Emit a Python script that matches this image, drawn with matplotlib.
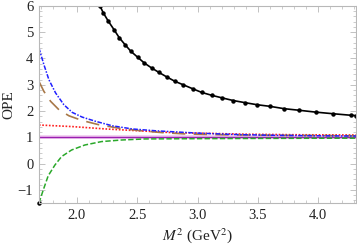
import matplotlib
matplotlib.use("Agg")
import matplotlib.pyplot as plt
from matplotlib.ticker import MultipleLocator

plt.rcParams['font.family'] = ['Liberation Serif', 'DejaVu Serif']
plt.rcParams['mathtext.fontset'] = 'stix'

# black curve with mesh points
x_black = [2.191, 2.218, 2.260, 2.307, 2.351, 2.398, 2.448, 2.503, 2.558, 2.619,
           2.680, 2.744, 2.813, 2.881, 2.959, 3.034, 3.117, 3.205, 3.296, 3.393,
           3.495, 3.600, 3.719, 3.843, 3.979, 4.120, 4.272, 4.313]
y_black = [6.00, 5.74, 5.42, 5.10, 4.79, 4.53, 4.27, 4.05, 3.83, 3.64,
           3.47, 3.30, 3.13, 3.00, 2.85, 2.71, 2.60, 2.50, 2.40, 2.32,
           2.24, 2.18, 2.09, 2.03, 1.96, 1.90, 1.84, 1.83]

x_blue = [1.685, 1.726, 1.768, 1.823, 1.892, 1.961, 2.044, 2.155, 2.293, 2.459,
          2.653, 2.846, 3.012, 3.3, 3.6, 4.0, 4.313]
y_blue = [4.40, 3.77, 3.19, 2.69, 2.24, 1.95, 1.77, 1.61, 1.44, 1.32,
          1.25, 1.20, 1.16, 1.11, 1.08, 1.06, 1.05]

x_brown = [1.685, 1.726, 1.782, 1.851, 1.934, 2.044, 2.182, 2.348, 2.514, 2.707,
           2.901, 3.2, 3.6, 4.0, 4.313]
y_brown = [3.13, 2.75, 2.37, 2.05, 1.82, 1.64, 1.48, 1.35, 1.26, 1.18,
           1.13, 1.10, 1.08, 1.07, 1.06]

x_red = [1.685, 1.961, 2.238, 2.514, 2.790, 3.012, 3.4, 3.8, 4.313]
y_red = [1.47, 1.41, 1.32, 1.25, 1.18, 1.16, 1.12, 1.10, 1.09]

x_green = [1.685, 1.721, 1.762, 1.818, 1.873, 1.956, 2.066, 2.205, 2.371, 2.564,
           3.0, 3.5, 4.313]
y_green = [-1.50, -1.00, -0.46, -0.05, 0.27, 0.52, 0.71, 0.84, 0.90, 0.94,
           0.95, 0.96, 0.97]

x_purple = [1.685, 4.313]
y_purple = [1.0, 1.0]

fig = plt.figure(figsize=(3.57, 2.45), dpi=100)
ax = fig.add_axes([0.109, 0.171, 0.888, 0.805])

ax.plot(x_purple, y_purple, color='#f0c8f0', lw=2.6, solid_capstyle='butt')
ax.plot(x_purple, y_purple, color='#9a1fb0', lw=1.0)
ax.plot(x_green, y_green, color='#2aa82a', lw=1.1, ls=(0, (3.5, 1.5)))
ax.plot(x_green[:1], y_green[:1], 'o', color='black', ms=2.2, clip_on=False)
ax.plot(x_red, y_red, color='#ff2020', lw=1.2, ls=(0, (1, 1)))
ax.plot(x_brown, y_brown, color='#a87848', lw=1.2, ls=(0, (8, 5)))
ax.plot(x_blue, y_blue, color='#2020ff', lw=1.1, ls=(0, (3, 1, 1, 1)))
ax.plot(x_black, y_black, color='black', lw=1.2, marker='o', ms=2.2)

ax.set_xlim(1.685, 4.313)
ax.set_ylim(-1.5, 6)
ax.xaxis.set_major_locator(MultipleLocator(0.5))
ax.xaxis.set_minor_locator(MultipleLocator(0.1))
ax.yaxis.set_major_locator(MultipleLocator(1))
ax.yaxis.set_minor_locator(MultipleLocator(0.2))
ax.xaxis.set_major_formatter(plt.FuncFormatter(lambda v, p: f"{v:.1f}"))
ax.yaxis.set_major_formatter(plt.FuncFormatter(lambda v, p: f"{int(round(v))}".replace('-', '\u2212')))

for s in ax.spines.values():
    s.set_color('#b8b8b8')
    s.set_linewidth(0.8)
ax.tick_params(which='both', direction='in', top=True, right=True,
               color='#b8b8b8', labelsize=10.5, labelcolor='#222222')
ax.tick_params(which='major', length=4, width=0.6, pad=4)
ax.tick_params(which='minor', length=2, width=0.5)

ax.set_ylabel('OPE', fontsize=11, labelpad=2, color='#222222')
ax.set_xlabel('$M^2$ (GeV$^2$)', fontsize=11, labelpad=3, color='#222222')

fig.savefig('out.png', dpi=100)
